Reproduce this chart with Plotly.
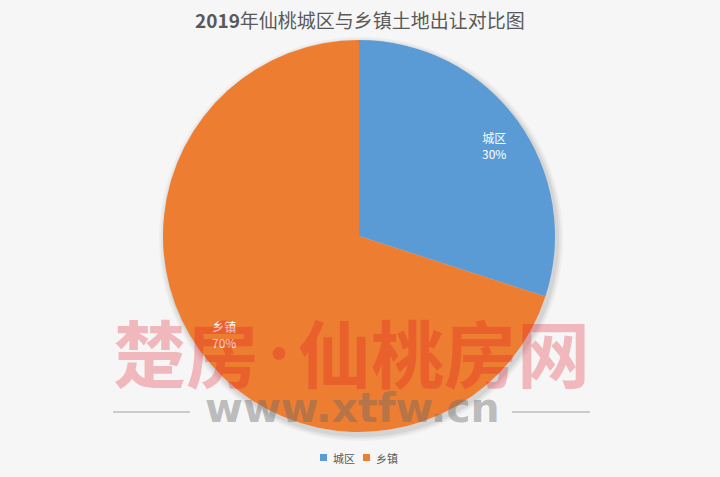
import math
import plotly.graph_objects as go

labels = ["城区", "乡镇"]
values = [30, 70]
colors = ["#5B9BD5", "#ED7D31"]
title_year = "2019"
title_rest = "年仙桃城区与乡镇土地出让对比图"
wm_left = "楚房"
wm_dot = "·"
wm_right = "仙桃房网"
wm_url = "www.xtfw.cn"

W, H = 720, 477
cx, cy, r = 359, 236, 196

fig = go.Figure()
fig.add_trace(go.Pie(
    labels=labels, values=values, sort=False, direction="clockwise", rotation=0,
    marker=dict(colors=colors, line=dict(width=0)),
    textinfo="none", showlegend=False,
    domain=dict(x=[(cx - r) / W, (cx + r) / W], y=[1 - (cy + r) / H, 1 - (cy - r) / H]),
    hoverinfo="label+percent",
))

shapes = []
annotations = []

# soft shadow under the pie
for i, a in enumerate([0.035, 0.045, 0.06]):
    d = 6 - i * 2
    shapes.append(dict(type="circle", xref="paper", yref="paper", layer="below",
                       x0=(cx - r - d + 2) / W, x1=(cx + r + d + 2) / W,
                       y0=1 - (cy + r + d + 3) / H, y1=1 - (cy - r - d + 3) / H,
                       fillcolor=f"rgba(0,0,0,{a})", line=dict(width=0)))

# slice labels placed at each slice's mid-angle
total = sum(values)
start = 0.0
for lab, v in zip(labels, values):
    mid = start + v / total * 360 / 2
    start += v / total * 360
    ang = math.radians(mid)
    px = cx + 0.85 * r * math.sin(ang)
    py = cy - 0.82 * r * math.cos(ang) + 4
    annotations.append(dict(text=f"{lab}<br>{v / total:.0%}", x=px / W, y=1 - py / H,
                            xref="paper", yref="paper", showarrow=False,
                            font=dict(size=12, color="white", family="Noto Sans CJK SC"),
                            xanchor="center", yanchor="middle"))

# watermark
wm_color = "rgba(225,20,35,0.27)"
annotations += [
    dict(text="<b>" + wm_left + "</b>", x=186 / W, y=1 - 350 / H, xref="paper", yref="paper",
         showarrow=False, font=dict(size=73, color=wm_color, family="Noto Sans CJK SC"),
         xanchor="center", yanchor="middle"),
    dict(text="<b>" + wm_dot + "</b>", x=279 / W, y=1 - 350 / H, xref="paper", yref="paper",
         showarrow=False, font=dict(size=50, color=wm_color, family="Noto Sans CJK SC"),
         xanchor="center", yanchor="middle"),
    dict(text="<b>" + wm_right + "</b>", x=444 / W, y=1 - 350 / H, xref="paper", yref="paper",
         showarrow=False, font=dict(size=73, color=wm_color, family="Noto Sans CJK SC"),
         xanchor="center", yanchor="middle"),
    dict(text="<b>" + wm_url + "</b>", x=352 / W, y=1 - 408 / H, xref="paper", yref="paper",
         showarrow=False, font=dict(size=41, color="rgba(105,105,105,0.42)",
                                    family="DejaVu Sans"),
         xanchor="center", yanchor="middle"),
]
for x0, x1 in [(113, 190), (512, 590)]:
    shapes.append(dict(type="line", xref="paper", yref="paper", layer="above",
                       x0=x0 / W, x1=x1 / W, y0=1 - 412 / H, y1=1 - 412 / H,
                       line=dict(color="rgba(150,150,150,0.45)", width=2)))

# title
annotations.append(dict(text="<b>" + title_year + "</b>" + title_rest, x=360 / W, y=1 - 19 / H,
                        xref="paper", yref="paper", showarrow=False,
                        font=dict(size=19, color="#595959", family="Noto Sans CJK SC"),
                        xanchor="center", yanchor="middle"))

# legend (compact)
lx = [320, 363]
for i, (lab, col) in enumerate(zip(labels, colors)):
    shapes.append(dict(type="rect", xref="paper", yref="paper", layer="above",
                       x0=lx[i] / W, x1=(lx[i] + 7) / W,
                       y0=1 - 461 / H, y1=1 - 454 / H,
                       fillcolor=col, line=dict(width=0)))
    annotations.append(dict(text=lab, x=(lx[i] + 11) / W, y=1 - 457.5 / H,
                            xref="paper", yref="paper", showarrow=False,
                            font=dict(size=11, color="#595959", family="Noto Sans CJK SC"),
                            xanchor="left", yanchor="middle"))

fig.update_layout(
    width=W, height=H,
    margin=dict(l=0, r=0, t=0, b=0),
    paper_bgcolor="#f6f6f6", plot_bgcolor="#f6f6f6",
    showlegend=False,
    shapes=shapes, annotations=annotations,
)

fig.write_html("out.html", config={"displayModeBar": False},
               post_script="document.body.style.margin='0px';")
